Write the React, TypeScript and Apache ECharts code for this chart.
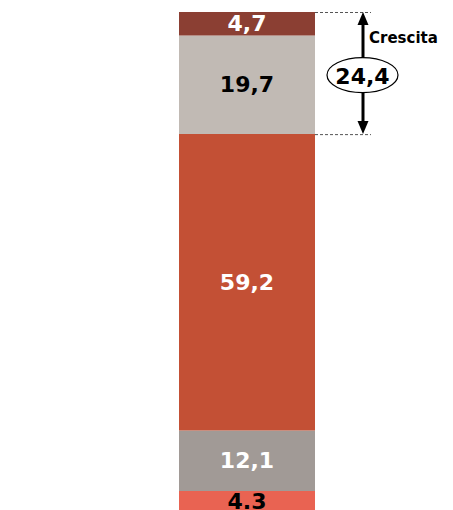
import React, { useEffect, useRef } from "react";
import * as echarts from "echarts";

const categories = ["Totale"];
const segmentValues = [4.3, 12.1, 59.2, 19.7, 4.7];
const segmentLabels = ["4.3", "12,1", "59,2", "19,7", "4,7"];
const segmentColors = ["#E96352", "#A19A96", "#C35035", "#C1BAB4", "#8B3F33"];
const labelColors = ["#000000", "#ffffff", "#ffffff", "#000000", "#ffffff"];
const growthValue = "24,4";
const growthLabel = "Crescita";

const FONT = "'DejaVu Sans', sans-serif";

export default function App() {
  const ref = useRef<HTMLDivElement>(null);
  useEffect(() => {
    if (!ref.current) return;
    const chart = echarts.init(ref.current, null, { renderer: "svg" });
    const series = segmentValues.map((v, i) => ({
      type: "bar",
      stack: "total",
      barWidth: "100%",
      data: [v],
      itemStyle: { color: segmentColors[i] },
      label: {
        show: true,
        position: "inside",
        formatter: () => segmentLabels[i],
        color: labelColors[i],
        fontFamily: FONT,
        fontWeight: "bold",
        fontSize: 22,
      },
    }));
    chart.setOption({
      animation: false,
      grid: { left: 179, width: 136, top: 12, height: 500.5 },
      xAxis: { type: "category", data: categories, show: false },
      yAxis: { type: "value", min: 0, max: 100, show: false },
      series,
    });
    const total = segmentValues.reduce((a, b) => a + b, 0);
    const lower = segmentValues[0] + segmentValues[1] + segmentValues[2];
    const yTop = chart.convertToPixel({ yAxisIndex: 0 }, total) as number;
    const yBot = chart.convertToPixel({ yAxisIndex: 0 }, lower) as number;
    const xRight = 315;
    const ax = 363;
    const cy = (yTop + yBot) / 2 + 2;
    chart.setOption({
      graphic: [
        {
          type: "line",
          shape: { x1: xRight, y1: yTop + 0.5, x2: 371, y2: yTop + 0.5 },
          style: { stroke: "#555", lineWidth: 1, lineDash: [3, 2] },
        },
        {
          type: "line",
          shape: { x1: xRight, y1: yBot + 0.5, x2: 371, y2: yBot + 0.5 },
          style: { stroke: "#555", lineWidth: 1, lineDash: [3, 2] },
        },
        {
          type: "line",
          shape: { x1: ax, y1: yTop + 10, x2: ax, y2: yBot - 10 },
          style: { stroke: "#000", lineWidth: 3 },
        },
        {
          type: "polygon",
          shape: { points: [[ax, yTop], [ax - 5.5, yTop + 13], [ax + 5.5, yTop + 13]] },
          style: { fill: "#000" },
        },
        {
          type: "polygon",
          shape: { points: [[ax, yBot], [ax - 5.5, yBot - 13], [ax + 5.5, yBot - 13]] },
          style: { fill: "#000" },
        },
        {
          type: "ellipse",
          shape: { cx: ax - 0.5, cy, rx: 35.5, ry: 17.5 },
          style: { fill: "#fff", stroke: "#000", lineWidth: 1.2 },
        },
        {
          type: "text",
          x: ax - 0.5,
          y: cy + 1.5,
          style: {
            text: growthValue,
            fill: "#000",
            font: `bold 22px ${FONT}`,
            align: "center",
            verticalAlign: "middle",
          },
        },
        {
          type: "text",
          x: 369,
          y: 37.5,
          style: {
            text: growthLabel,
            fill: "#000",
            font: `bold 15px ${FONT}`,
            align: "left",
            verticalAlign: "middle",
          },
        },
      ],
    });
    return () => chart.dispose();
  }, []);
  return (
    <div
      ref={ref}
      style={{ position: "fixed", left: 0, top: 0, width: 453, height: 520, background: "#fff" }}
    />
  );
}
